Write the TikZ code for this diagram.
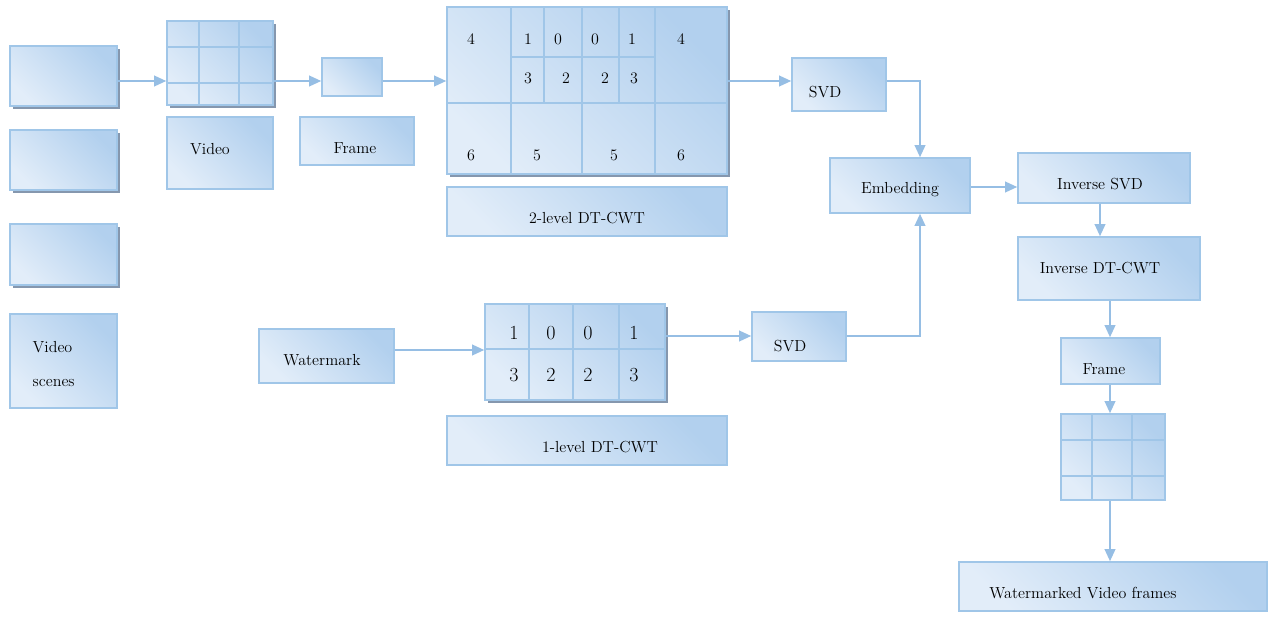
\documentclass[tikz,border=0pt]{standalone}
\usetikzlibrary{fit,shadows,arrows.meta}
\definecolor{bd}{RGB}{160,198,232}
\definecolor{c1}{RGB}{226,237,249}
\definecolor{c2}{RGB}{178,208,238}
\definecolor{sh}{RGB}{120,140,165}
\definecolor{ar}{RGB}{150,190,228}
\begin{document}
\begin{tikzpicture}[x=0.75pt,y=-0.75pt,
 box/.style={draw=bd,line width=1.2pt,inner sep=0pt,shading=axis,left color=c1,right color=c2,shading angle=135,font=\fontsize{12}{14}\selectfont},
 sbox/.style={box,drop shadow={shadow xshift=2.5pt,shadow yshift=-2.5pt,fill=sh,opacity=0.9}},
 gl/.style={draw=bd,line width=1.2pt},
 num/.style={font=\fontsize{12}{14}\selectfont},
 bnum/.style={font=\fontsize{15}{17}\selectfont},
 arr/.style={draw=ar,line width=1.2pt,-{Triangle[length=9pt,width=8pt]}}]
\useasboundingbox (0,0) rectangle (1276,620);
% left boxes
\node[sbox,fit={(10,46)(117,106)}] (s1) {};
\node[sbox,fit={(10,130)(117,190)}] (s2) {};
\node[sbox,fit={(10,224)(117,285)}] (s3) {};
\node[box,fit={(10,314)(117,408)}] (vs) {};
\node[num,anchor=west,align=left] (vst) at (28,364) {Video\\[12pt]scenes};
% video grid
\node[sbox,fit={(167,21)(273,105)}] (vg) {};
\draw[gl] (199,21)--(199,105) (239,21)--(239,105) (167,47)--(273,47) (167,83)--(273,83);
\node[box,fit={(167,117)(273,189)}] (vl) {};
\node[num] (vlt) at (210,149) {Video};
\node[box,fit={(322,58)(382,96)}] (fr) {};
\node[box,fit={(300,117)(414,165)}] (frl) {};
\node[num] (frlt) at (355,148) {Frame};
% big grid
\node[sbox,fit={(447,7)(727,174)}] (bg) {};
\draw[gl] (447,103)--(727,103) (511,7)--(511,174) (655,7)--(655,174) (582,103)--(582,174)
 (544,7)--(544,103) (582,7)--(582,103) (619,7)--(619,103) (511,57)--(655,57);
\foreach \x/\y/\t in {471/39/4,528/39/1,558/39/0,595/39/0,632/39/1,681/39/4,528/78/3,566/78/2,605/78/2,634/78/3,471/155/6,537/155/5,614/155/5,681/155/6}
 \node[num] at (\x,\y) {\t};
\node[box,fit={(447,187)(727,236)}] (l2) {};
\node[num] (l2t) at (587,218) {2-level DT-CWT};
% SVD etc
\node[box,fit={(792,58)(886,111)}] (svd1) {};
\node[num] at (825,92) {SVD};
\node[box,fit={(830,158)(970,213)}] (emb) {};
\node[num] at (900,190) {Embedding};
\node[box,fit={(1018,153)(1190,203)}] (isvd) {};
\node[num] at (1100,184) {Inverse SVD};
\node[box,fit={(1018,237)(1200,300)}] (idt) {};
\node[num] at (1100,268) {Inverse DT-CWT};
\node[box,fit={(1061,338)(1160,384)}] (fr2) {};
\node[num] at (1104,369) {Frame};
\node[box,fit={(1061,414)(1165,500)}] (g2) {};
\draw[gl] (1092,414)--(1092,500) (1132,414)--(1132,500) (1061,440)--(1165,440) (1061,476)--(1165,476);
\node[box,fit={(959,562)(1267,611)}] (wv) {};
\node[num] at (1083,593) {Watermarked Video frames};
% bottom
\node[box,fit={(259,329)(394,383)}] (wm) {};
\node[num] at (322,360) {Watermark};
\node[sbox,fit={(485,304)(665,400)}] (sg) {};
\draw[gl] (529,304)--(529,400) (573,304)--(573,400) (619,304)--(619,400) (485,349)--(665,349);
\foreach \x/\y/\t in {514/333/1,551/333/0,588/333/0,634/333/1,514/375/3,551/375/2,588/375/2,634/375/3}
 \node[bnum] at (\x,\y) {\t};
\node[box,fit={(447,416)(727,465)}] (l1) {};
\node[num] at (600,447) {1-level DT-CWT};
\node[box,fit={(752,312)(846,361)}] (svd2) {};
\node[num] at (790,346) {SVD};
% arrows
\draw[arr] (s1.east|-0,81) -- (vg.west|-0,81);
\draw[arr] (vg.east|-0,81) -- (fr.west|-0,81);
\draw[arr] (fr.east|-0,81) -- (bg.west|-0,81);
\draw[arr] (bg.east|-0,81) -- (svd1.west|-0,81);
\draw[arr] (svd1.east|-0,81) -- (920,81) -- (emb.north-|920,0);
\draw[arr] (svd2.east|-0,336) -- (920,336) -- (emb.south-|920,0);
\draw[arr] (emb.east|-0,187) -- (isvd.west|-0,187);
\draw[arr] (isvd.south-|1100,0) -- (idt.north-|1100,0);
\draw[arr] (idt.south-|1110,0) -- (fr2.north-|1110,0);
\draw[arr] (fr2.south-|1110,0) -- (g2.north-|1110,0);
\draw[arr] (g2.south-|1110,0) -- (wv.north-|1110,0);
\draw[arr] (wm.east|-0,350) -- (sg.west|-0,350);
\draw[arr] (sg.east|-0,336) -- (svd2.west|-0,336);
\end{tikzpicture}
\end{document}
